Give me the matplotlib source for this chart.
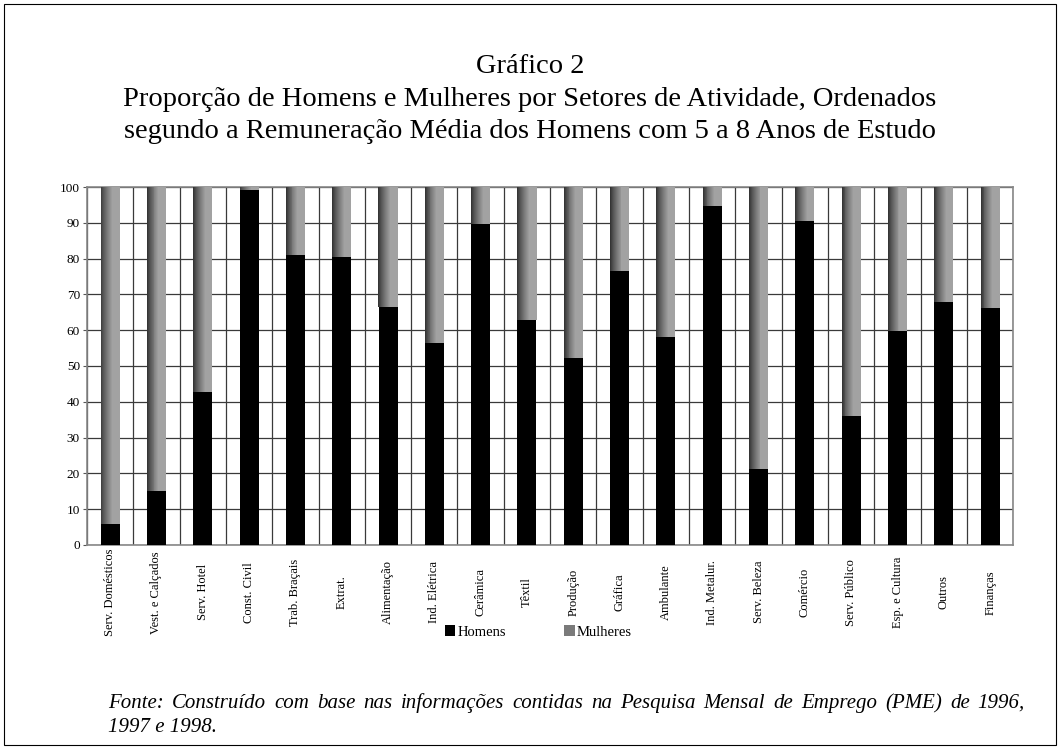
import numpy as np
import matplotlib
matplotlib.use("Agg")
import matplotlib.pyplot as plt
from matplotlib.patches import Rectangle, Patch
from matplotlib.colors import LinearSegmentedColormap

plt.rcParams['font.family'] = ['Liberation Serif', 'DejaVu Serif']

setores = ["Serv. Domésticos", "Vest. e Calçados", "Serv. Hotel", "Const. Civil",
           "Trab. Braçais", "Extrat.", "Alimentação", "Ind. Elétrica", "Cerâmica",
           "Têxtil", "Produção", "Gráfica", "Ambulante", "Ind. Metalur.",
           "Serv. Beleza", "Comércio", "Serv. Público", "Esp. e Cultura",
           "Outros", "Finanças"]
homens = [5.9, 15.1, 42.7, 99.1, 80.9, 80.4, 66.4, 56.4, 89.6, 62.8,
          52.2, 76.5, 58.0, 94.6, 21.2, 90.4, 36.0, 59.7, 67.8, 66.1]
mulheres = [100 - h for h in homens]
y_ticks = list(range(0, 101, 10))

titulo = ("Gráfico 2\nProporção de Homens e Mulheres por Setores de Atividade, Ordenados\n"
          "segundo a Remuneração Média dos Homens com 5 a 8 Anos de Estudo")
fonte_l1 = "Fonte: Construído com base nas informações contidas na Pesquisa Mensal de Emprego (PME) de 1996,"
fonte_l2 = "1997 e 1998."


def texto_justificado(fig, linha, x0, x1, y, **kw):
    # espalha as palavras para ocupar de x0 a x1 (em pixels)
    r = fig.canvas.get_renderer()
    palavras = linha.split()
    objs = [fig.text(0, y, p, va="baseline", ha="left", **kw) for p in palavras]
    larg = [t.get_window_extent(r).width for t in objs]
    gap = (x1 - x0 - sum(larg)) / (len(palavras) - 1)
    pos = x0
    for t, wdt in zip(objs, larg):
        t.set_x(pos / fig.bbox.width)
        pos += wdt + gap


def main():
    fig = plt.figure(figsize=(10.6, 7.49), dpi=100)
    ax = fig.add_axes([0.082, 0.2724, 0.874, 0.4779])

    x = np.arange(len(setores))
    largura = 0.41
    ax.bar(x, homens, width=largura, color="black", zorder=3)

    # barras das mulheres com gradiente horizontal (fatias verticais)
    cmap = LinearSegmentedColormap.from_list("cinza", ["#2c2c2c", "#a2a2a2"])
    n = 20
    w = largura / n
    for i in range(n):
        t = min(1.0, ((i + 0.5) / n) * 1.6) ** 0.8
        xs = x - largura / 2 + (i + 0.5) * w
        ax.bar(xs, mulheres, width=w * 1.08, bottom=homens, color=cmap(t),
               linewidth=0, zorder=3)

    ax.set_xlim(-0.5, len(setores) - 0.5)
    ax.set_ylim(0, 100)
    ax.set_yticks(y_ticks)
    ax.tick_params(axis="y", labelsize=9.5, length=3, width=0.8, color="#555555", pad=2)
    ax.set_xticks(x)
    ax.set_xticklabels(setores, rotation=90, fontsize=9, va="center")
    ax.tick_params(axis="x", length=0, pad=34)

    # grade
    ax.set_xticks(np.arange(-0.5, len(setores)), minor=True)
    ax.grid(axis="y", which="major", color="#3a3a3a", linewidth=0.9, zorder=0)
    ax.grid(axis="x", which="minor", color="#3a3a3a", linewidth=0.9, zorder=0)
    ax.grid(axis="x", which="major", visible=False)
    ax.tick_params(axis="x", which="minor", length=0)
    for s in ax.spines.values():
        s.set_color("#888888")
        s.set_linewidth(1.2)

    handles = [Patch(facecolor="black", label="Homens"),
               Patch(facecolor="#7a7a7a", label="Mulheres")]
    fig.legend(handles=handles, loc="center left", bbox_to_anchor=(0.413, 1 - 632 / 749),
               ncol=2, frameon=False, fontsize=10.5, handlelength=0.7, handleheight=0.7,
               handletextpad=0.15, columnspacing=4.0, borderpad=0)

    fig.text(0.5, 1 - 99 / 749, titulo, ha="center", va="center", fontsize=20.5,
             linespacing=1.38)

    texto_justificado(fig, fonte_l1, 108, 1025, 1 - 708 / 749, fontsize=15, style="italic")
    fig.text(108 / 1060, 1 - 732 / 749, fonte_l2, ha="left", va="baseline", fontsize=15,
             style="italic")

    fig.patches.append(Rectangle((0.004, 0.005), 0.992, 0.99, transform=fig.transFigure,
                                 fill=False, edgecolor="black", linewidth=0.8))

    fig.savefig("out.png", dpi=100)


if __name__ == "__main__":
    main()
